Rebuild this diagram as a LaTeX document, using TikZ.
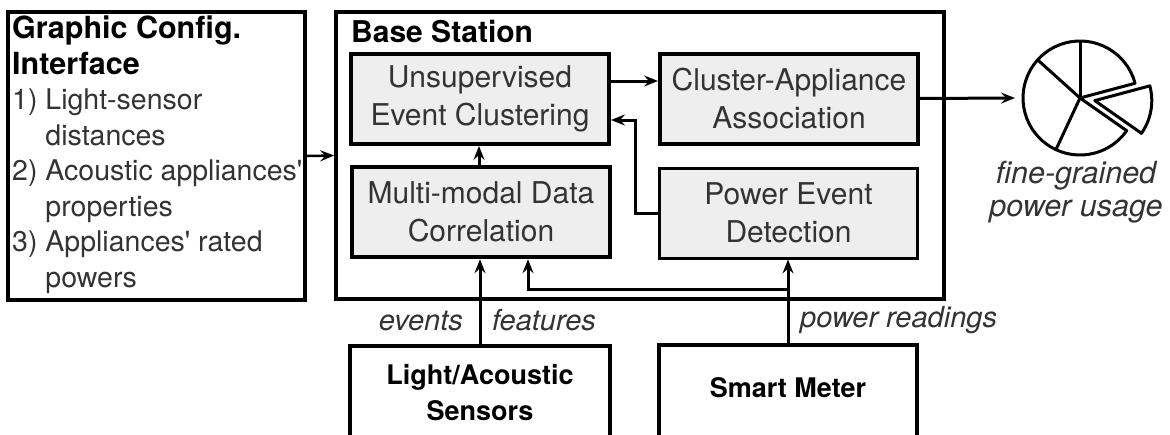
\documentclass[tikz,border=0pt]{standalone}
\usepackage{fontspec}
\setmainfont{TeX Gyre Heros}
\usetikzlibrary{arrows.meta,calc}
\definecolor{boxgray}{HTML}{EEEEEE}
\definecolor{txtgray}{HTML}{333333}
\tikzset{
  blk/.style={draw, fill=boxgray, line width=4pt, minimum width=258pt, minimum height=90pt,
    align=center, inner sep=0pt, text=txtgray, font=\fontsize{30}{38}\selectfont},
  frame/.style={draw, line width=3.5pt, inner sep=0pt},
  conn/.style={line width=3pt, -{Stealth[length=14pt,width=11pt,inset=5pt]}},
  ttl/.style={font=\bfseries\fontsize{30}{34}\selectfont, text=black, inner sep=0pt},
  lbl/.style={font=\itshape\fontsize{29}{34}\selectfont, text=txtgray, inner sep=0pt},
}
\begin{document}
\begin{tikzpicture}[x=1pt,y=-1pt]
\clip (0,0) rectangle (1170,434);
% outer frames
\node[frame, line width=4pt, minimum width=297pt, minimum height=288pt] (gci) at (156.5,156) {};
\node[frame, minimum width=608pt, minimum height=287pt] (bs) at (640,155.5) {};
\node[ttl, anchor=base west] (bst) at (351,42) {Base Station};
\node[anchor=north west, inner sep=0pt, align=left, text=txtgray,
      font=\fontsize{28.5}{35.5}\selectfont] (gcit) at (12,16)
  {{\bfseries\color{black}\fontsize{30.5}{35.5}\selectfont Graphic Config.}\\
   {\bfseries\color{black}\fontsize{30.5}{35.5}\selectfont Interface}\\
   1) Light-sensor\\
   \hphantom{1) }distances\\
   2) Acoustic appliances\textquotesingle\\
   \hphantom{2) }properties\\
   3) Appliances\textquotesingle{} rated\\
   \hphantom{3) }powers};
% inner blocks
\node[blk] (uec) at (480,99) {Unsupervised\\Event Clustering};
\node[blk] (cla) at (789,98.5) {Cluster-Appliance\\Association};
\node[blk, line width=4.5pt] (mmc) at (481,212) {Multi-modal Data\\Correlation};
\node[blk, line width=3pt] (ped) at (788.5,213) {Power Event\\Detection};
% bottom boxes
\node[frame, line width=4pt, minimum width=260pt, minimum height=94pt, align=center,
      font=\bfseries\fontsize{27}{36}\selectfont] (las) at (480,393) {Light/Acoustic\\Sensors};
\node[frame, line width=3.5pt, minimum width=258pt, minimum height=100pt] (sm) at (788,395) {};
\node[ttl, font=\bfseries\fontsize{27}{34}\selectfont] (smt) at (788,388) {Smart Meter};
% pie
\coordinate (piel) at (1015,98);
\begin{scope}[shift={(1080,98)}, yscale=-1, line width=3pt, line join=round]
  \draw (0,0) -- (15:57) arc[start angle=15, end angle=325, radius=57] -- cycle;
  \draw (0,0) -- (90:57);
  \draw (0,0) -- (138:57);
  \draw (0,0) -- (245:57);
  \draw ($(0,0)+(-10:15)$) -- ++(15:57) arc[start angle=15, end angle=-35, radius=57] -- cycle;
\end{scope}
\node[lbl, align=center, font=\itshape\fontsize{30.5}{33}\selectfont] (fg) at (1076,192) {fine-grained\\power usage};
% connectors
\draw[conn, line width=2.5pt] (gci.east) -- (bs.west);
\draw[conn] ([yshift=18pt]uec.east) -- ([yshift=17.5pt]cla.west);
\draw[conn] ([xshift=-2pt]mmc.north) -- ([xshift=-2pt]mmc.north |- uec.south);
\draw[conn] (ped.west) -- ++(-23,0) |- ([yshift=-21pt]uec.east);
\draw[conn] (cla.east) -- (piel);
\draw[conn] (las.north) -- (las.north |- mmc.south);
\draw[conn] (sm.north) -- (sm.north |- ped.south);
\coordinate (br) at ($(sm.north)+(0,-54)$);
\draw[conn] (br) -| ([xshift=47pt]mmc.south);
% labels
\node[lbl, anchor=base east] (ev) at (463,330) {events};
\node[lbl, anchor=base west] (ft) at (492,330) {features};
\node[lbl, anchor=base west] (pr) at (800,327) {power readings};
\end{tikzpicture}
\end{document}
